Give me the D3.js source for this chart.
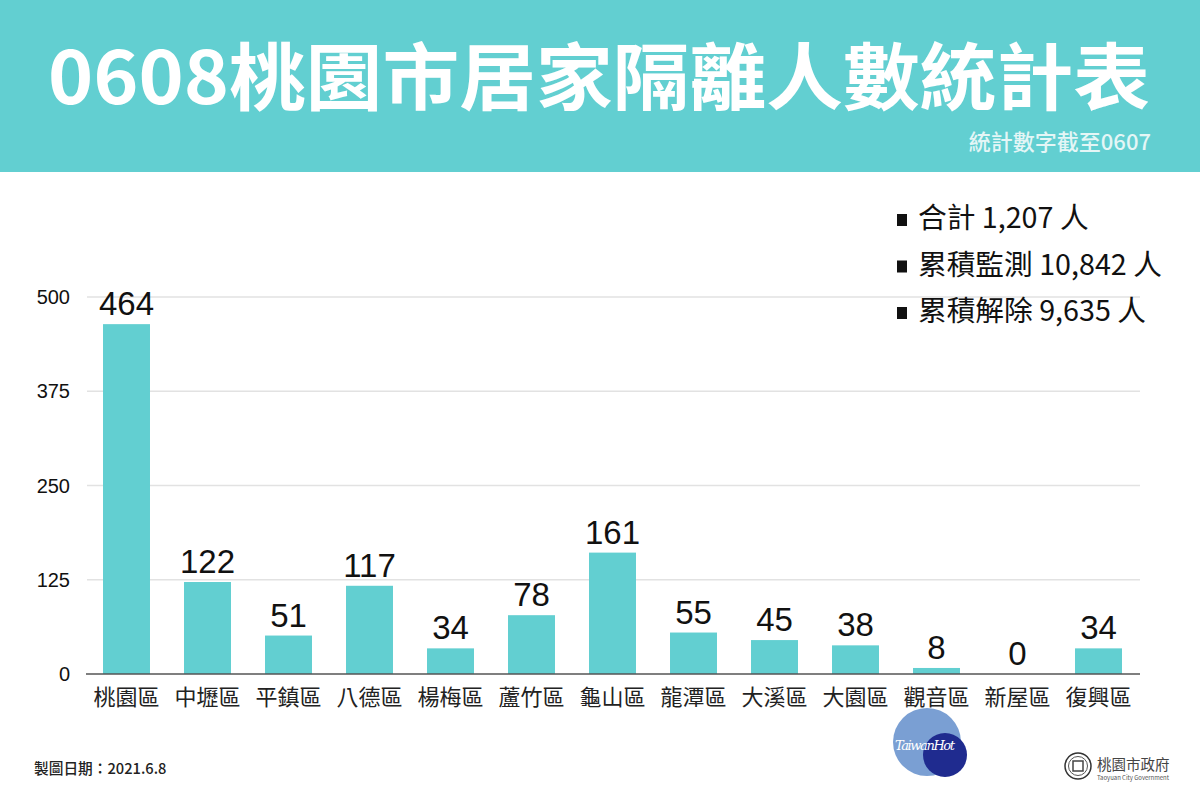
<!DOCTYPE html>
<html lang="zh-Hant">
<head>
<meta charset="utf-8">
<title>0608桃園市居家隔離人數統計表</title>
<script src="https://cdn.jsdelivr.net/npm/d3@7"></script>
<style>
  html, body { margin: 0; padding: 0; background: #fff; }
  svg { display: block; }
  text { font-family: "Noto Sans CJK TC", "Noto Sans", sans-serif; }
  .num { font-family: "Liberation Sans", "Noto Sans CJK TC", sans-serif; }
</style>
</head>
<body>
<svg id="chart" width="1200" height="800"></svg>
<script>
const districts = ["桃園區", "中壢區", "平鎮區", "八德區", "楊梅區", "蘆竹區", "龜山區", "龍潭區", "大溪區", "大園區", "觀音區", "新屋區", "復興區"];
const counts = [464, 122, 51, 117, 34, 78, 161, 55, 45, 38, 8, 0, 34];
const yTicks = [0, 125, 250, 375, 500];
const summaryLines = ["合計 1,207 人", "累積監測 10,842 人", "累積解除 9,635 人"];

const teal = "#62cfd1";
const svg = d3.select("#chart");

// header band
svg.append("rect").attr("width", 1200).attr("height", 172).attr("fill", teal);
svg.append("text")
  .attr("x", 599).attr("y", 104)
  .attr("text-anchor", "middle")
  .attr("font-size", 73).attr("font-weight", 700)
  .attr("fill", "#fff")
  .attr("textLength", 1102).attr("lengthAdjust", "spacingAndGlyphs")
  .text("0608桃園市居家隔離人數統計表");
svg.append("text")
  .attr("x", 1151).attr("y", 150)
  .attr("text-anchor", "end")
  .attr("font-size", 22).attr("font-weight", 500)
  .attr("fill", "#e4f6f6")
  .text("統計數字截至0607");

// scales
const x = d3.scaleBand().domain(districts).range([86.5, 1139.5]).paddingInner(0.42).paddingOuter(0.21);
const y = d3.scaleLinear().domain([0, 500]).range([674, 297]);

// gridlines
svg.append("g").selectAll("line")
  .data(yTicks.filter(d => d > 0))
  .join("line")
  .attr("x1", 87).attr("x2", 1140)
  .attr("y1", d => y(d)).attr("y2", d => y(d))
  .attr("stroke", "#e2e2e2").attr("stroke-width", 1.5);

// y axis labels
svg.append("g").selectAll("text")
  .data(yTicks)
  .join("text")
  .attr("class", "num")
  .attr("x", 70).attr("y", d => y(d) + 7)
  .attr("text-anchor", "end")
  .attr("font-size", 20)
  .attr("fill", "#111")
  .text(d => d);

// bars
svg.append("g").selectAll("rect")
  .data(districts)
  .join("rect")
  .attr("x", d => x(d) - 0.5)
  .attr("width", x.bandwidth())
  .attr("y", (d, i) => y(counts[i]))
  .attr("height", (d, i) => y(0) - y(counts[i]))
  .attr("fill", teal);

// value labels
svg.append("g").selectAll("text")
  .data(districts)
  .join("text")
  .attr("class", "num")
  .attr("x", d => x(d) + x.bandwidth() / 2 - 0.5)
  .attr("y", (d, i) => y(counts[i]) - 9)
  .attr("text-anchor", "middle")
  .attr("font-size", 33)
  .attr("fill", "#111")
  .text((d, i) => counts[i]);

// baseline
svg.append("line")
  .attr("x1", 86).attr("x2", 1140)
  .attr("y1", y(0)).attr("y2", y(0))
  .attr("stroke", "#555").attr("stroke-width", 1.5);

// category labels
svg.append("g").selectAll("text")
  .data(districts)
  .join("text")
  .attr("x", d => x(d) + x.bandwidth() / 2 - 0.5)
  .attr("y", 705)
  .attr("text-anchor", "middle")
  .attr("font-size", 22)
  .attr("fill", "#222")
  .text(d => d);

// summary box
const summary = svg.append("g");
summaryLines.forEach((line, i) => {
  const lineY = 226 + i * 46.5;
  summary.append("rect")
    .attr("x", 897).attr("y", lineY - 12)
    .attr("width", 10).attr("height", 12)
    .attr("fill", "#111");
  summary.append("text")
    .attr("x", 918).attr("y", lineY + 2)
    .attr("font-size", 28.7)
    .attr("fill", "#111")
    .text(line);
});

// footer
svg.append("text")
  .attr("x", 34).attr("y", 774)
  .attr("font-size", 14.7).attr("font-weight", 500)
  .attr("fill", "#222")
  .text("製圖日期：2021.6.8");

// TaiwanHot mark
svg.append("circle").attr("cx", 927).attr("cy", 742).attr("r", 34).attr("fill", "#7a9fd3");
svg.append("circle").attr("cx", 945).attr("cy", 755).attr("r", 22).attr("fill", "#1f2b8f");
svg.append("text")
  .attr("x", 895).attr("y", 750)
  .attr("font-size", 13).attr("font-style", "italic")
  .attr("fill", "#fff")
  .style("font-family", "'DejaVu Serif', serif")
  .attr("textLength", 60)
  .text("TaiwanHot");

// city government mark
const seal = svg.append("g").attr("transform", "translate(1078,766)");
seal.append("circle").attr("r", 13).attr("fill", "none").attr("stroke", "#333").attr("stroke-width", 1.5);
seal.append("circle").attr("r", 9.5).attr("fill", "none").attr("stroke", "#555").attr("stroke-width", 1);
seal.append("rect").attr("x", -5).attr("y", -5).attr("width", 10).attr("height", 10)
  .attr("fill", "none").attr("stroke", "#444").attr("stroke-width", 1.5);
svg.append("text")
  .attr("x", 1097).attr("y", 770)
  .attr("font-size", 14.5)
  .attr("fill", "#444")
  .text("桃園市政府");
svg.append("text")
  .attr("x", 1097).attr("y", 780)
  .attr("font-size", 6)
  .attr("fill", "#555")
  .attr("textLength", 72)
  .text("Taoyuan City Government");
</script>
</body>
</html>
